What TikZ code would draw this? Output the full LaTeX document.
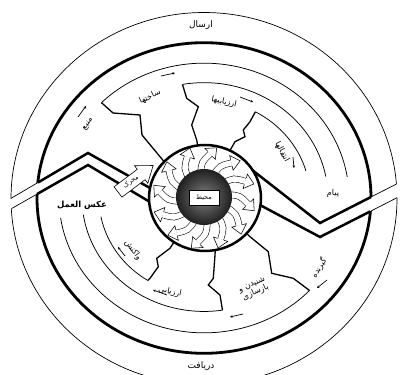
\documentclass[tikz,border=0pt]{standalone}
\usepackage{fontspec}
\newfontfamily\arabicfont[Script=Arabic]{DejaVu Sans}
\TeXXeTstate=1
\usetikzlibrary{decorations.markings,arrows.meta}
\newcommand{\fa}[1]{{\arabicfont\beginR #1\endR}}
\begin{document}
\begin{tikzpicture}[x=1pt,y=1pt,
  thinarc/.style={line width=0.75},
  zig/.style={line width=1.3, line join=miter},
  bandthick/.style={line width=2.5, line join=miter},
  bandthin/.style={line width=0.7},
  lbl/.style={font=\fontsize{8}{9}\selectfont, inner sep=1pt, align=center},
  dirarrow/.style={line width=0.7, -{Stealth[length=2.6pt,width=2.4pt]}},
  spiral/.style={line width=0.55, double=white, double distance=5.5pt},
  headmark/.style={decoration={markings, mark=at position 1 with {\filldraw[fill=white, line width=0.55] (0,-3.3) -- (0,-7.5) -- (9,0) -- (0,7.5) -- (0,3.3);}}}
]
\useasboundingbox (0,0) rectangle (402,375);
\fill[white] (0,0) rectangle (402,375);
\begin{scope}[shift={(204,177)}]
  % outer thin ring
  \draw[line width=0.7] (0,-0.5) ellipse [x radius=193, y radius=186];
  \begin{scope}[yscale=0.93]
    \draw[line width=2.8] (0,0) circle [radius=167];
    % upper arcs
    \draw[thinarc] (135:145) arc [start angle=135, end angle=9, radius=145];
    \draw[thinarc] (100:124) arc [start angle=100, end angle=10.7, radius=124];
    \draw[thinarc] (61:106) arc [start angle=61, end angle=16, radius=106];
    % lower arcs
    \draw[thinarc] (-43.3:145) arc [start angle=-43.3, end angle=-171.5, radius=145];
    \draw[thinarc] (-81.3:122) arc [start angle=-81.3, end angle=-171.5, radius=122];
    \draw[thinarc] (-122.4:105) arc [start angle=-122.4, end angle=-169, radius=105];
    \coordinate (z1s) at (135:145);
    \coordinate (z2s) at (100:124);
    \coordinate (z3s) at (61:106);
    \coordinate (b1e) at (-122.4:105);
    \coordinate (b2e) at (-81.3:122);
    \coordinate (b3e) at (-43.3:145);
  \end{scope}
  % zigzag separators
  \draw[zig] (z1s) -- (-91,85) -- (-64,83) -- (-62,63) -- (-40,36.5);
  \draw[zig] (z2s) -- (-17.3,99.7) -- (-5.7,91.3) -- (-12.3,73) -- (-7.3,58) -- (-5,45);
  \draw[zig] (z3s) -- (46,76.3) -- (39.3,68) -- (41,61.3) -- (31,56.3) -- (24,44);
  \draw[zig] (-28,-41) -- (-34,-50.3) -- (-47.3,-60.3) -- (-45.7,-68.7) -- (-54,-80.3) -- (b1e);
  \draw[zig] (11.5,-48) -- (11,-57) -- (9.3,-80.3) -- (4.3,-87) -- (16,-97) -- (b2e);
  \draw[zig] (40,-33) -- (46,-38.7) -- (64.3,-53.7) -- (67.7,-75.3) -- (89.3,-80.3) -- (b3e);
  % band
  \coordinate (LU0) at (-193,-0.4); \coordinate (LU1) at (-166,15.5);
  \coordinate (LU2) at (-116,45);   \coordinate (LU3) at (-39,1.5);
  \coordinate (LL0) at (-192.5,-10.6); \coordinate (LL1) at (-167,3.9);
  \coordinate (LL2) at (-116,33);   \coordinate (LL3) at (-44,-10);
  \coordinate (RU3) at (35,38.3);   \coordinate (RU2) at (116,-25);
  \coordinate (RU1) at (167,1);     \coordinate (RU0) at (192.5,14);
  \coordinate (RL3) at (40,1.5);    \coordinate (RL2) at (116,-39);
  \coordinate (RL1) at (166.3,-13.4); \coordinate (RL0) at (193,0.3);
  \fill[white] (-200,-4.6) -- (LU2) -- (LU3) -- (LL3) -- (LL2) -- (-200,-14.9) -- cycle;
  \fill[white] (RU3) -- (RU2) -- (200,17.8) -- (200,3.8) -- (RL2) -- (RL3) -- cycle;
  \draw[bandthin] (LU0) -- (LU1);  \draw[bandthick] (LU1) -- (LU2) -- (LU3);
  \draw[bandthin] (LL0) -- (LL1);  \draw[bandthick] (LL1) -- (LL2) -- (LL3);
  \draw[bandthin] (RU0) -- (RU1);  \draw[bandthick] (RU1) -- (RU2) -- (RU3);
  \draw[bandthin] (RL0) -- (RL1);  \draw[bandthick] (RL1) -- (RL2) -- (RL3);
  % hub
  \filldraw[fill=white, line width=2.5] (1,0) ellipse [x radius=56, y radius=53];
  \foreach \k in {0,...,11}{
    \pgfmathsetmacro\a{\k*30+8}
    \draw[spiral] (\a:24) .. controls (\a-4:36) .. (\a-16:44.5);
    \path[headmark, postaction={decorate}] (\a:24) .. controls (\a-4:36) .. (\a-16:44.5);
  }
  \shade[inner color=black!50, outer color=black!88] (0,1) circle [radius=28];
  \node[draw, fill=white, line width=0.4, minimum width=30pt, minimum height=15pt, lbl, font=\fontsize{6.5}{7}\selectfont] (env) at (0,0) {\fa{محیط}};
  % stimulus arrow
  \begin{scope}[shift={(-86,6)}, rotate=37]
    \filldraw[fill=white, line width=0.6] (0,-6.5) -- (29,-6.5) -- (29,-11) -- (44,0) -- (29,11) -- (29,6.5) -- (0,6.5) -- cycle;
  \end{scope}
  \node[lbl, rotate=37, font=\fontsize{6.5}{7}\selectfont] (stim) at (-73,16) {\fa{محرک}};
  % labels
  \node[lbl, font=\fontsize{9}{10}\selectfont] (send) at (-3,173) {\fa{ارسال}};
  \node[lbl, font=\fontsize{9}{10}\selectfont] (recv) at (-3,-168) {\fa{دریافت}};
  \node[lbl, rotate=55] (src) at (-116,74) {\fa{منبع}};
  \node[lbl, rotate=25] (struct) at (-54,101) {\fa{ساختها}};
  \node[lbl, rotate=-12] (evals) at (20,96) {\fa{ارزیابیها}};
  \node[lbl, rotate=-62] (trans) at (78,46) {\fa{انتقالها}};
  \node[lbl] (msg) at (129,5) {\fa{پیام}};
  \node[lbl, font=\fontsize{8.5}{9}\selectfont\bfseries] (fb) at (-122,-7) {\fa{عکس العمل}};
  \node[lbl, rotate=-54] (react) at (-71,-52) {\fa{واکنش}};
  \node[lbl, rotate=-12] (eval) at (-34,-94) {\fa{ارزیابی}};
  \node[lbl, rotate=25] (hear) at (50,-91) {\fa{شنیدن و}\\\fa{بازسازی}};
  \node[lbl, rotate=58] (rcvr) at (115,-70) {\fa{گیرنده}};
  % direction arrows
  \draw[dirarrow] (-126,81) -- (-118,92);
  \draw[dirarrow] (-43,122) -- (-29,125);
  \draw[dirarrow] (36,101) -- (49,96);
  \draw[dirarrow] (89,41) -- (90,30);
  \draw[dirarrow] (123,-82) -- (113,-90);
  \draw[dirarrow] (39,-116) -- (26,-119);
  \draw[dirarrow] (-37,-97) -- (-51,-92);
  \draw[dirarrow] (-79,-58) -- (-86,-49);
\end{scope}
\end{tikzpicture}
\end{document}
